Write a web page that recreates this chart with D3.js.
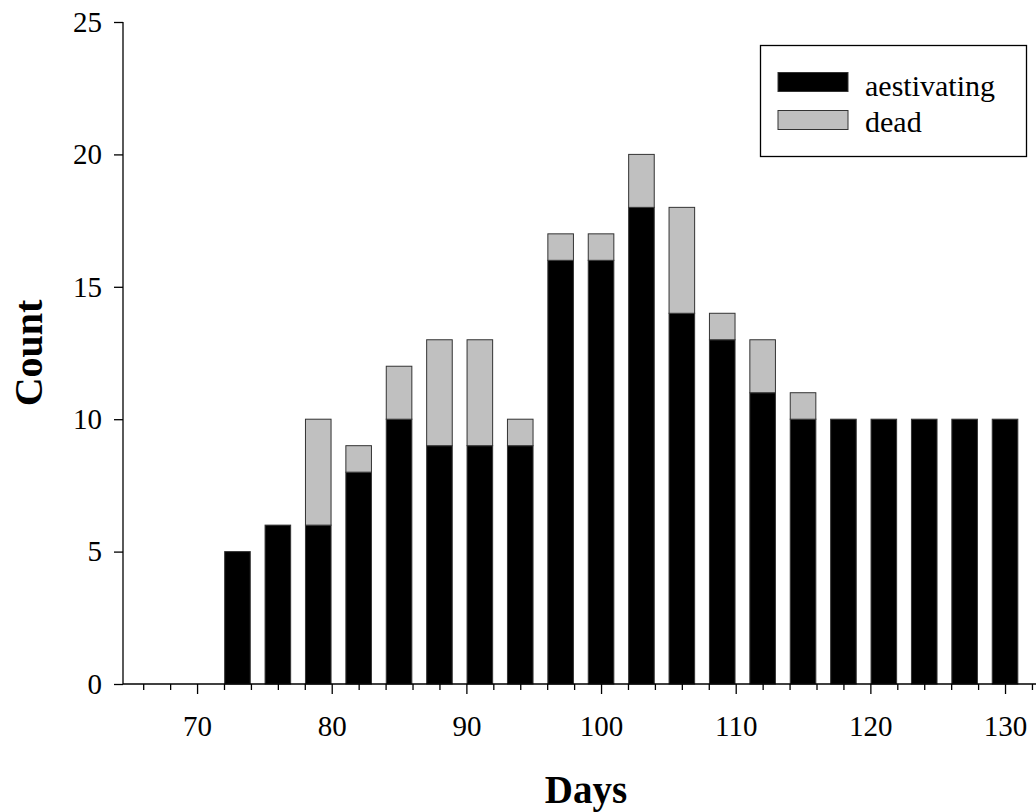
<!DOCTYPE html>
<html><head><meta charset="utf-8">
<script src="https://cdn.jsdelivr.net/npm/d3@7"></script>
<style>body{margin:0;background:#fff}svg{display:block}text{font-family:"Liberation Serif","Times New Roman",serif}</style>
</head><body>
<svg id="c" width="1036" height="812"></svg>
<script>
const days = [73,76,79,82,85,88,91,94,97,100,103,106,109,112,115,118,121,124,127,130];
const aestivating = [5,6,6,8,10,9,9,9,16,16,18,14,13,11,10,10,10,10,10,10];
const dead = [0,0,4,1,2,4,4,1,1,1,2,4,1,2,1,0,0,0,0,0];
const seriesNames = ["aestivating","dead"];
const seriesColors = ["#000000","#c0c0c0"];
const yTicks = [0,5,10,15,20,25];
const xMajorTicks = [70,80,90,100,110,120,130];

const svg = d3.select("#c");
const x = d3.scaleLinear().domain([64.5,132.3]).range([123,1036]);
const y = d3.scaleLinear().domain([0,25]).range([684,22]);
const barW = x(1.9)-x(0);

const rows = days.map((d,i)=>({day:d, aestivating:aestivating[i], dead:dead[i]}));
const stack = d3.stack().keys(seriesNames)(rows);

const g = svg.append("g");
stack.forEach((s,si)=>{
  g.selectAll(null).data(s.filter(d=>d[1]>d[0])).enter().append("rect")
    .attr("x",d=>x(d.data.day)-barW/2)
    .attr("width",barW)
    .attr("y",d=>y(d[1]))
    .attr("height",d=>y(d[0])-y(d[1]))
    .attr("fill",seriesColors[si])
    .attr("stroke","#333").attr("stroke-width",1);
});

// y axis
const ya = svg.append("g").attr("transform","translate(123,0)")
  .call(d3.axisLeft(y).tickValues(yTicks).tickSize(9).tickPadding(12).tickFormat(d3.format("d")));
ya.select(".domain").attr("stroke","#000").attr("stroke-width",1.3).attr("d","M0,22V684");
ya.selectAll(".tick line").attr("stroke","#000").attr("stroke-width",1.3);
ya.selectAll("text").attr("font-size",29).attr("fill","#000");

// x axis minor
const minor = d3.range(66,133,2).filter(v=>v%10!==0);
const xm = svg.append("g").attr("transform","translate(0,684)")
  .call(d3.axisBottom(x).tickValues(minor).tickSize(6).tickFormat(""));
xm.select(".domain").remove();
xm.selectAll(".tick line").attr("stroke","#000").attr("stroke-width",1.3);
const xa = svg.append("g").attr("transform","translate(0,684)")
  .call(d3.axisBottom(x).tickValues(xMajorTicks).tickSize(10).tickPadding(21).tickFormat(d3.format("d")));
xa.select(".domain").attr("stroke","#000").attr("stroke-width",1.3).attr("d","M123,0H1036");
xa.selectAll(".tick line").attr("stroke","#000").attr("stroke-width",1.3);
xa.selectAll("text").attr("font-size",29).attr("fill","#000");

// titles
svg.append("text").attr("x",586).attr("y",803).attr("text-anchor","middle")
  .attr("font-size",39).attr("font-weight","bold").text("Days");
svg.append("text").attr("transform","translate(42,353) rotate(-90)").attr("text-anchor","middle")
  .attr("font-size",40).attr("font-weight","bold").text("Count");

// legend
const lg = svg.append("g");
lg.append("rect").attr("x",760.5).attr("y",45.5).attr("width",266).attr("height",111)
  .attr("fill","#fff").attr("stroke","#000").attr("stroke-width",1.3);
seriesNames.forEach((n,i)=>{
  lg.append("rect").attr("x",778).attr("y",72.5+i*38).attr("width",70).attr("height",19)
    .attr("fill",seriesColors[i]).attr("stroke","#333").attr("stroke-width",1);
  lg.append("text").attr("x",865).attr("y",96+i*36).attr("font-size",30).text(n);
});
</script>
</body></html>
